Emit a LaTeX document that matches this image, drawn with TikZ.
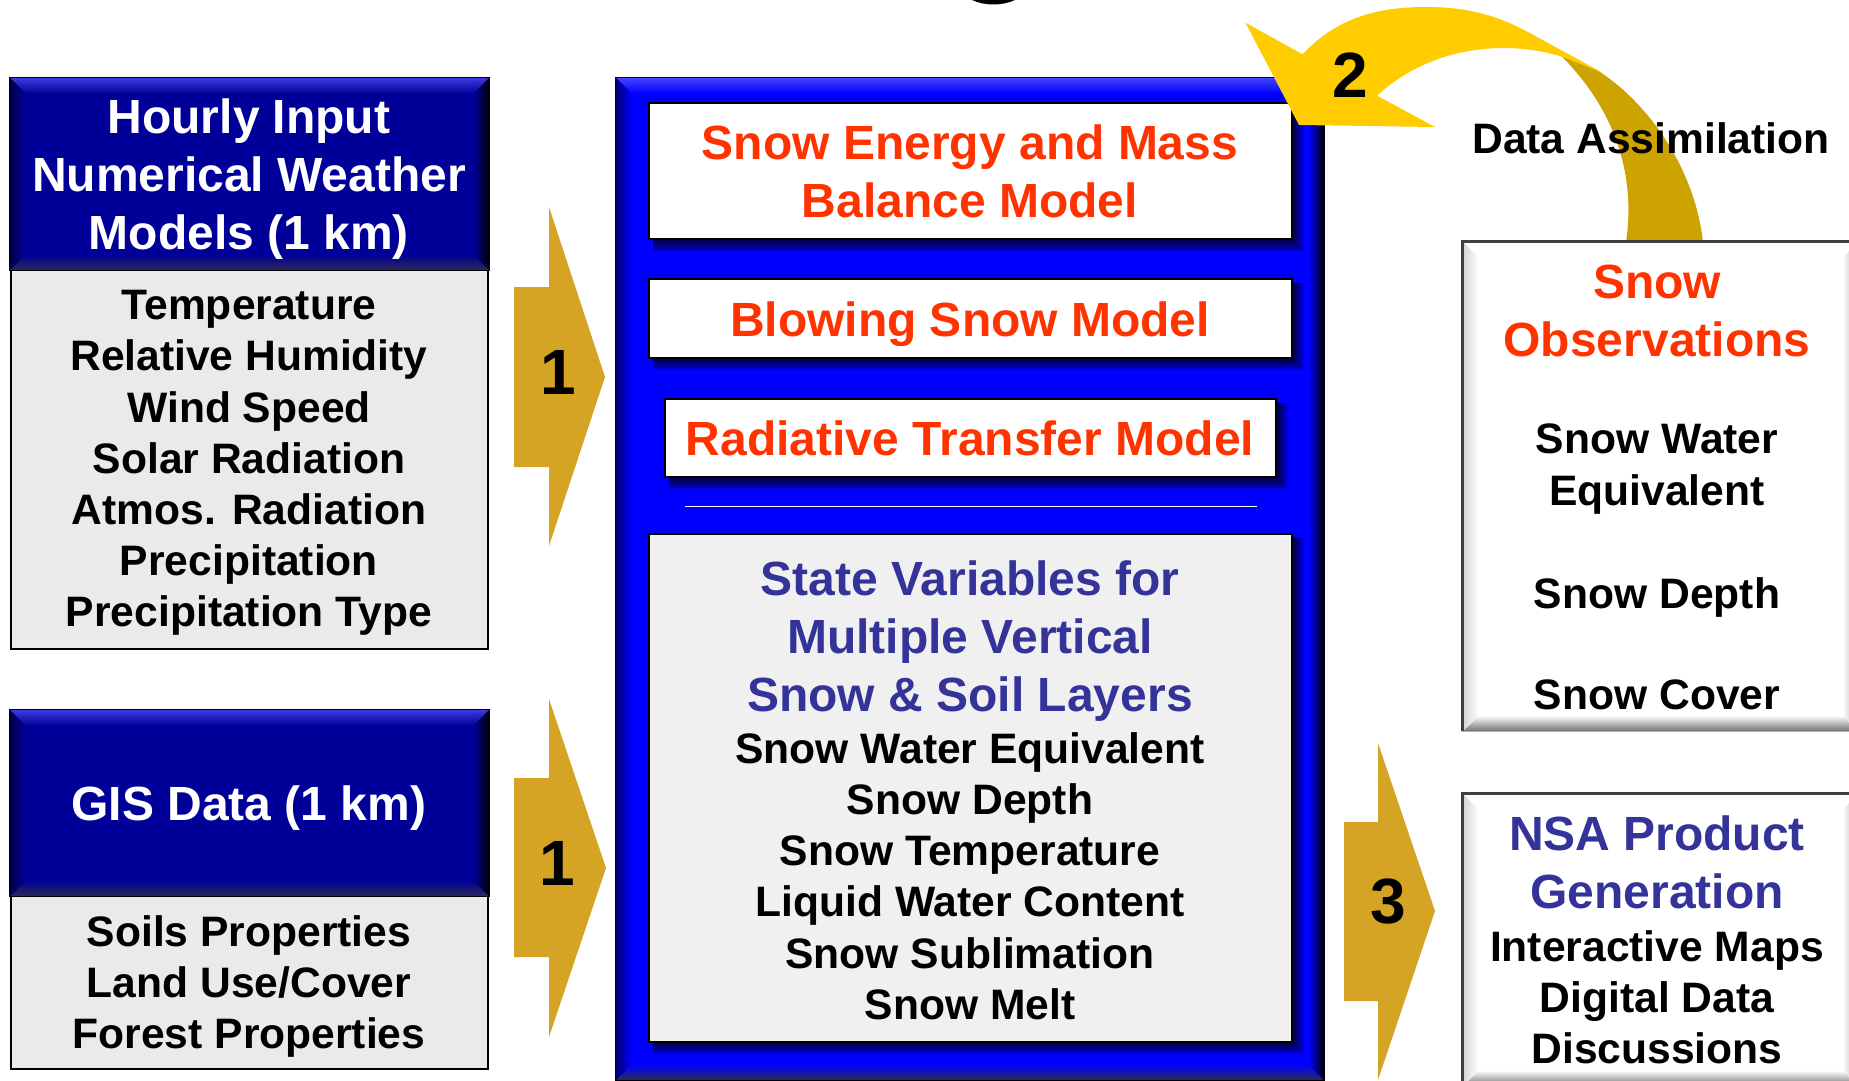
\documentclass[tikz,border=0pt]{standalone}
\usepackage{fontspec}
\setmainfont{Liberation Sans}
\usetikzlibrary{fit,calc}
\definecolor{navy}{HTML}{000099}
\definecolor{navytop}{HTML}{3C3CE0}
\definecolor{navybot}{HTML}{2A2A55}
\definecolor{pure}{HTML}{0000FF}
\definecolor{puretop}{HTML}{4444FF}
\definecolor{redtxt}{HTML}{FF3300}
\definecolor{bluetxt}{HTML}{333399}
\definecolor{lightbody}{HTML}{EAEAEA}
\definecolor{lightpanel}{HTML}{F0F0F0}
\definecolor{gold}{HTML}{D5A424}
\definecolor{yellowarrow}{HTML}{FFCC00}
\definecolor{darkyellow}{HTML}{CCA300}
\definecolor{edgegray}{HTML}{B0B0B0}
\definecolor{botgray}{HTML}{707070}
\definecolor{darkline}{HTML}{404040}
\tikzset{
  bigtxt/.style={font=\fontsize{24}{29}\selectfont\bfseries,align=center,inner sep=0pt},
  smalltxt/.style={font=\fontsize{21.3}{25.6}\selectfont\bfseries,align=center,inner sep=0pt,text=black},
  numtxt/.style={font=\fontsize{32}{36}\selectfont\bfseries,inner sep=0pt,text=black},
  bodybox/.style={inner sep=0pt,draw=black,line width=.7pt},
  modelbox/.style={inner sep=0pt,draw=black,line width=.7pt,fill=white},
  blockarrow/.style={fill=gold,draw=none}
}
% name x1 y1 x2 y2 base top bottom right
\newcommand\bevelbox[9]{%
  \node[fit={(#2,#3)(#4,#5)},inner sep=0pt,fill=#6] (#1) {};
  \path[top color=#7,middle color=#7!75!#6,bottom color=#6] (#1.north west) -- (#1.north east) -- ($(#1.north east)+(-\bw,\bw)$) -- ($(#1.north west)+(\bw,\bw)$) -- cycle;
  \path[top color=#6,middle color=#8!50!#6,bottom color=#8] (#1.south west) -- (#1.south east) -- ($(#1.south east)+(-\bw,-\bw)$) -- ($(#1.south west)+(\bw,-\bw)$) -- cycle;
  \path[left color=#9!55!#6,right color=#6] (#1.north west) -- (#1.south west) -- ($(#1.south west)+(\bw,-\bw)$) -- ($(#1.north west)+(\bw,\bw)$) -- cycle;
  \path[left color=#6,right color=#9] (#1.north east) -- (#1.south east) -- ($(#1.south east)+(-\bw,-\bw)$) -- ($(#1.north east)+(-\bw,\bw)$) -- cycle;
  \draw[#9,line width=.8pt] (#1.south west) rectangle (#1.north east);
}
\newcommand\softshadow[4]{%
  \foreach \s in {2,4,6,8,10,12}{\fill[black,opacity=.18] (#1+4,#2+4) rectangle (#3+\s,#4+\s);}
}
\def\bw{16}
\begin{document}
\begin{tikzpicture}[x=.5pt,y=-.5pt]
\path[use as bounding box] (0,0) rectangle (1849,1081);
\fill[white] (0,0) rectangle (1849,1081);
\fill[black] (972,0) .. controls (985,6) and (1002,6) .. (1015,0) -- cycle;

% left column
\node[bodybox,fill=lightbody,fit={(11,265)(488,649)}] (inputbody) {};
\bevelbox{inputhead}{10}{78}{489}{270}{navy}{navytop}{navybot}{black}
\node[bigtxt,text=white] (inputtitle) at (249,179.5) {Hourly Input\\Numerical Weather\\Models (1 km)};
\node[smalltxt] (inputlist) at (249,463) {Temperature\\Relative Humidity\\Wind Speed\\Solar Radiation\\Atmos. Radiation\\Precipitation\\Precipitation Type};
\node[bodybox,fill=lightbody,fit={(11,890)(488,1069)}] (gisbody) {};
\bevelbox{gishead}{10}{710}{489}{896}{navy}{navytop}{navybot}{black}
\node[bigtxt,text=white] (gistitle) at (249,808) {GIS Data (1 km)};
\node[smalltxt] (gislist) at (249,986.5) {Soils Properties\\Land Use/Cover\\Forest Properties};

% input arrows
\fill[blockarrow] (514,287) -- (549,287) -- (549,207) -- (605,377) -- (549,546) -- (549,467) -- (514,467) -- cycle;
\node[numtxt] (numa) at (558,372) {1};
\fill[blockarrow] (514,778) -- (549,778) -- (549,699) -- (606,868) -- (549,1037) -- (549,957) -- (514,957) -- cycle;
\node[numtxt] (numb) at (557,863) {1};

% central model column
\bevelbox{modelframe}{616}{78}{1324}{1080}{pure}{puretop}{navybot}{black}
\softshadow{649}{103}{1292}{239}
\node[modelbox,fit={(649,103)(1292,239)}] (energybox) {};
\node[bigtxt,text=redtxt] (energytxt) at (970,171.5) {Snow Energy and Mass\\Balance Model};
\softshadow{649}{279}{1292}{358}
\node[modelbox,fit={(649,279)(1292,358)}] (blowbox) {};
\node[bigtxt,text=redtxt] (blowtxt) at (970,324.5) {Blowing Snow Model};
\softshadow{665}{399}{1276}{477}
\node[modelbox,fit={(665,399)(1276,477)}] (radbox) {};
\node[bigtxt,text=redtxt] (radtxt) at (970,438.6) {Radiative Transfer Model};
\coordinate (rulea) at (685,506.5);
\coordinate (ruleb) at (1257,506.5);
\draw[white,line width=.9pt] (rulea) -- (ruleb);
\softshadow{649}{534}{1292}{1042}
\node[modelbox,fill=lightpanel,fit={(649,534)(1292,1042)}] (statebox) {};
\node[bigtxt,text=bluetxt] (statetitle) at (970,641) {State Variables for\\Multiple Vertical\\Snow \& Soil Layers};
\node[smalltxt] (statelist) at (970,876) {Snow Water Equivalent\\Snow Depth\\Snow Temperature\\Liquid Water Content\\Snow Sublimation\\Snow Melt};

% assimilation arrow
\fill[darkyellow] (1527,31.7) -- (1600,72) .. controls (1650,105) and (1695,170) .. (1703,242) -- (1626,242) .. controls (1636,175) and (1615,110) .. (1562,56.7) -- cycle;
\fill[yellowarrow] (1245.5,22.7) -- (1302.6,54.3) .. controls (1340,14) and (1385,7) .. (1427,7) .. controls (1465,7) and (1497,15) .. (1527,31.7) -- (1603,73) -- (1562,56.7) .. controls (1540,50) and (1520,48) .. (1504,48) .. controls (1455,48) and (1410,65) .. (1377,95.7) -- (1435,127) -- (1299,125) -- cycle;
\node[numtxt] (numc) at (1350,75) {2};
\node[smalltxt] (assim) at (1651,138) {Data Assimilation};

% right column
\bevelbox{obsbox}{1463}{242}{1858}{731}{white}{white}{botgray}{edgegray}
\draw[darkline,line width=1.2pt] (obsbox.south west) -- (obsbox.north west) -- (obsbox.north east);
\node[bigtxt,text=redtxt] (obstitle) at (1657,310.5) {Snow\\Observations};
\node[smalltxt] (obswater) at (1657,469) {Snow Water\\Equivalent};
\node[smalltxt] (obsdepth) at (1657,597) {Snow Depth};
\node[smalltxt] (obscover) at (1657,694.5) {Snow Cover};
\fill[blockarrow] (1344,822) -- (1378,822) -- (1378,743) -- (1435,911) -- (1378,1080) -- (1378,1001) -- (1344,1001) -- cycle;
\node[numtxt] (numd) at (1388,902) {3};
\bevelbox{nsabox}{1463}{794}{1858}{1086}{white}{white}{botgray}{edgegray}
\draw[darkline,line width=1.2pt] (nsabox.south west) -- (nsabox.north west) -- (nsabox.north east);
\node[bigtxt,text=bluetxt] (nsatitle) at (1657,862.5) {NSA Product\\Generation};
\node[smalltxt] (nsalist) at (1657,997) {Interactive Maps\\Digital Data\\Discussions};
\end{tikzpicture}
\end{document}
